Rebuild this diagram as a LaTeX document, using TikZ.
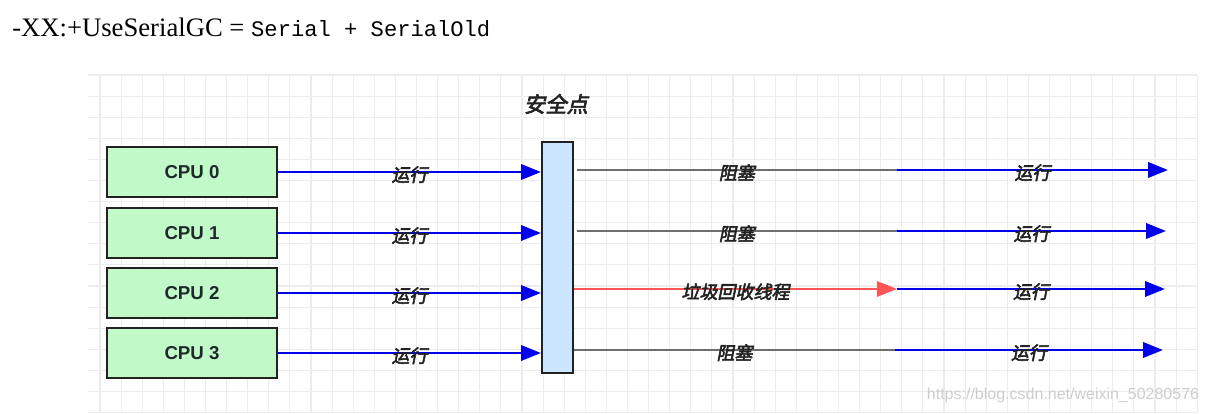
\documentclass[tikz,border=0pt]{standalone}
\usepackage{fontspec}
\setmainfont{Liberation Serif}
\newfontfamily\codefont{Liberation Mono}
\newfontfamily\cpufont{Liberation Sans}
\newfontfamily\cjkfont[FakeSlant=0.2,FakeBold=3]{Noto Sans CJK SC}
\usetikzlibrary{arrows.meta}

\begin{document}
\begin{tikzpicture}[x=0.75pt,y=0.75pt,yscale=-1,xscale=1,
    gridline/.style={draw={rgb, 255:red, 236; green, 236; blue, 236 },line width=0.8pt},
    cpubox/.style={draw={rgb, 255:red, 34; green, 34; blue, 34 },line width=1.5pt,fill={rgb, 255:red, 193; green, 250; blue, 200 },minimum width=127.5pt,minimum height=37.5pt,inner sep=0pt,text={rgb, 255:red, 30; green, 42; blue, 42 },font=\cpufont\bfseries\fontsize{14}{16}\selectfont},
    safebar/.style={draw={rgb, 255:red, 34; green, 34; blue, 34 },line width=1.5pt,fill={rgb, 255:red, 204; green, 230; blue, 255 },minimum width=23.25pt,minimum height=173.25pt,inner sep=0pt},
    runarrow/.style={draw={rgb, 255:red, 0; green, 0; blue, 235 },line width=2pt,-{Triangle[length=15pt,width=11.5pt]}},
    blockline/.style={draw={rgb, 255:red, 110; green, 110; blue, 110 },line width=1.6pt},
    gcarrow/.style={draw={rgb, 255:red, 255; green, 85; blue, 85 },line width=1.6pt,-{Triangle[length=15pt,width=11.5pt]}},
    tag/.style={inner sep=0pt,yshift=-2pt,text={rgb, 255:red, 34; green, 34; blue, 34 },font=\cjkfont\fontsize{13.5}{15}\selectfont}]

    % grid paper
    \foreach \i in {0,...,52} {
        \draw[gridline] ({100+\i*21.1},75) -- ({100+\i*21.1},413);
    }
    \foreach \j in {0,...,16} {
        \draw[gridline] (88,{75+\j*21.1}) -- (1197,{75+\j*21.1});
    }

    % Text Node
    \node[anchor=base west,inner sep=0pt,font=\fontsize{20}{22}\selectfont] (title) at (12,37) {-XX:+UseSerialGC = {\codefont\fontsize{16.6}{20}\selectfont Serial + SerialOld}};

    %Shape: Rectangle
    \node[cpubox] (cpu0) at (192,172) {CPU 0};
    \node[cpubox] (cpu1) at (192,233) {CPU 1};
    \node[cpubox] (cpu2) at (192,293) {CPU 2};
    \node[cpubox] (cpu3) at (192,353) {CPU 3};
    %Shape: Rectangle
    \node[safebar] (sp) at (557.5,257.5) {};
    % Text Node
    \node[inner sep=0pt,text={rgb, 255:red, 34; green, 34; blue, 34 },font=\cjkfont\fontsize{16}{18}\selectfont] (sptitle) at (556,104) {安全点};

    %Straight Lines
    \draw[runarrow] (cpu0.east) -- (cpu0.east -| sp.west) node[midway,tag] {运行};
    \draw[runarrow] (cpu1.east) -- (cpu1.east -| sp.west) node[midway,tag] {运行};
    \draw[runarrow] (cpu2.east) -- (cpu2.east -| sp.west) node[midway,tag] {运行};
    \draw[runarrow] (cpu3.east) -- (cpu3.east -| sp.west) node[midway,tag] {运行};

    \coordinate (m0) at (897,170);
    \coordinate (m1) at (897,231);
    \coordinate (m2) at (897,289);
    \coordinate (m3) at (895,350);
    \coordinate (e0) at (1168,170);
    \coordinate (e1) at (1166,231);
    \coordinate (e2) at (1165,289);
    \coordinate (e3) at (1163,350);

    %Straight Lines
    \draw[blockline] ([xshift=2pt]m0 -| sp.east) -- (m0) node[midway,tag] {阻塞};
    \draw[blockline] ([xshift=2pt]m1 -| sp.east) -- (m1) node[midway,tag] {阻塞};
    \draw[gcarrow] (m2 -| sp.east) -- (m2) node[midway,tag] {垃圾回收线程};
    \draw[blockline] (m3 -| sp.east) -- (m3) node[midway,tag] {阻塞};

    \draw[runarrow] (m0) -- (e0) node[midway,tag] {运行};
    \draw[runarrow] (m1) -- (e1) node[midway,tag] {运行};
    \draw[runarrow] (m2) -- (e2) node[midway,tag] {运行};
    \draw[runarrow] (m3) -- (e3) node[midway,tag] {运行};

    % Text Node
    \node[inner sep=0pt,text={rgb, 255:red, 205; green, 205; blue, 205 },font=\cpufont\fontsize{12}{14}\selectfont] (mark) at (1063,395) {https://blog.csdn.net/weixin\_50280576};

    \useasboundingbox (0,0) rectangle (1209,413);
\end{tikzpicture}
\end{document}
